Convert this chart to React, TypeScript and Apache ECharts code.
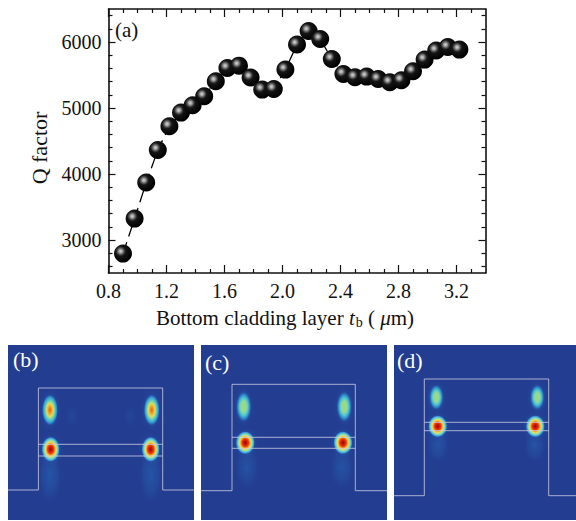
import React, { useEffect, useRef } from "react";
import * as echarts from "echarts";

const thickness = [0.9,0.98,1.06,1.14,1.22,1.3,1.38,1.46,1.54,1.62,1.7,1.78,1.86,1.94,2.02,2.1,2.18,2.26,2.34,2.42,2.5,2.58,2.66,2.74,2.82,2.9,2.98,3.06,3.14,3.22];
const qFactor = [2794,3324,3870,4364,4723,4930,5041,5177,5405,5606,5642,5461,5279,5288,5582,5961,6167,6045,5742,5515,5465,5476,5439,5389,5420,5556,5733,5870,5924,5885];
const xMajor = [0.8,1.2,1.6,2.0,2.4,2.8,3.2];
const xMinor = [0.9,1.0,1.1,1.3,1.4,1.5,1.7,1.8,1.9,2.1,2.2,2.3,2.5,2.6,2.7,2.9,3.0,3.1,3.3];
const yMajor = [3000,4000,5000,6000];
const yMinor = [2600,2800,3200,3400,3600,3800,4200,4400,4600,4800,5200,5400,5600,5800,6200,6400];

const serif = "'Liberation Serif', serif";
const ink = "#111111";

// Field panels, in each panel's own pixel scale.
const panelB = {
  label: "(b)", labelX: 5, labelY: 16, frame: [8, 345, 186, 175],
  outline: [[0,145],[30.4,145],[30.4,43],[154.7,43],[154.7,145],[186,145]],
  upper: [[30.4,99.3],[154.7,99.3]], lower: [[30.4,111],[154.7,111]],
  top: [[42,65,16,31],[143.7,65,16,31]], hot: [[42.7,104.3,18,25],[142.7,104.3,18,25]],
  glow: [[42,130,26,62,0.5],[143,130,26,62,0.5],[64,71,14,24,0.18],[122,71,14,24,0.18],[42,65,24,46,0.6],[143.7,65,24,46,0.6],[42.7,104.3,28,36,0.7],[142.7,104.3,28,36,0.7]],
};
const panelC = {
  label: "(c)", labelX: 4, labelY: 19, frame: [201, 345, 186, 175],
  outline: [[0,145.7],[31,145.7],[31,39.3],[154.3,39.3],[154.3,145.7],[186,145.7]],
  upper: [[31,92.3],[154.3,92.3]], lower: [[31,103.3],[154.3,103.3]],
  top: [[42.7,61.7,15,30],[143.3,61.7,15,30]], hot: [[44.3,97.7,19,23],[142,97.7,19,23]],
  glow: [[46,122,26,48,0.45],[141,122,26,48,0.45],[42.7,61.7,22,44,0.7],[143.3,61.7,22,44,0.7],[44.3,97.7,28,34,0.75],[142,97.7,28,34,0.75]],
};
const panelD = {
  label: "(d)", labelX: 3, labelY: 17, frame: [394, 345, 182, 175],
  outline: [[0,150.7],[30.3,150.7],[30.3,34],[154.7,34],[154.7,150.7],[182,150.7]],
  upper: [[30.3,77.3],[154.7,77.3]], lower: [[30.3,85.7],[154.7,85.7]],
  top: [[42.3,52.3,14,25],[143.3,52.3,14,25]], hot: [[43.7,81.3,19,22],[141.3,81.3,19,22]],
  glow: [[44,100,24,38,0.45],[141,100,24,38,0.45],[42.3,52.3,22,36,0.7],[143.3,52.3,22,36,0.7],[43.7,81.3,28,32,0.75],[141.3,81.3,28,32,0.75]],
};
const panels = [panelB, panelC, panelD];

const sphere = {
  type: "radial", x: 0.37, y: 0.37, r: 0.62,
  colorStops: [
    { offset: 0, color: "#d4d4d4" }, { offset: 0.14, color: "#a8a8a8" },
    { offset: 0.28, color: "#5a5a5a" }, { offset: 0.44, color: "#151515" }, { offset: 1, color: "#000000" },
  ],
};
const radial = (stops: [number, string][]) => ({
  type: "radial", x: 0.5, y: 0.5, r: 0.5,
  colorStops: stops.map(([offset, color]) => ({ offset, color })),
});
const hotFill = radial([[0,"#8c0a0a"],[0.16,"#c8140e"],[0.34,"#f03a10"],[0.48,"#f8a820"],[0.6,"#e8e060"],[0.76,"#70d8c8"],[0.9,"#3a98d8"],[1,"rgba(60,130,210,0)"]]);
const warmFill = radial([[0,"#f05818"],[0.22,"#f0a028"],[0.42,"#e0dc58"],[0.62,"#60d0c0"],[0.84,"#3090d0"],[1,"rgba(40,100,180,0)"]]);
const coolFill = radial([[0,"#98d888"],[0.36,"#98d890"],[0.58,"#50c8d0"],[0.8,"#2e88c8"],[1,"rgba(40,100,180,0)"]]);
const glowFill = (a: number) => radial([[0,`rgba(40,110,190,${a})`],[0.6,`rgba(40,95,175,${a * 0.6})`],[1,"rgba(35,61,145,0)"]]);

function buildOption() {
  const gridBase = { left: 108.5, top: 9, width: 377, height: 264, show: false };
  const grids: any[] = [gridBase];
  const xAxes: any[] = [];
  const yAxes: any[] = [];
  const series: any[] = [];
  const tickStyle = { color: ink, width: 1.2 };
  const lineOn = { show: true, lineStyle: { color: ink, width: 1.6 } };
  const xCommon = { type: "value", min: 0.8, max: 3.4, gridIndex: 0, splitLine: { show: false } };
  const yCommon = { type: "value", min: 2500, max: 6500, gridIndex: 0, splitLine: { show: false } };

  xAxes.push({
    ...xCommon, position: "bottom", axisLine: lineOn,
    axisTick: { show: true, inside: true, length: 8, lineStyle: tickStyle, customValues: xMajor },
    axisLabel: { show: true, customValues: xMajor, margin: 8, color: ink, fontFamily: serif, fontSize: 20, formatter: (v: number) => v.toFixed(1) },
    name: "Bottom cladding layer {i|t}{s|b} ( {i|\u03bc}m)", nameLocation: "middle", nameGap: 33,
    nameTextStyle: {
      color: ink, fontFamily: serif, fontSize: 21, padding: [0, 24, 0, 0],
      rich: { i: { fontStyle: "italic", fontFamily: serif, fontSize: 21, color: ink }, s: { fontFamily: serif, fontSize: 14, color: ink, verticalAlign: "bottom", padding: [9, 0, 0, 1] } },
    },
  });
  xAxes.push({ ...xCommon, position: "bottom", axisLine: { show: false }, axisLabel: { show: false }, axisTick: { show: true, inside: true, length: 4, lineStyle: tickStyle, customValues: xMinor } });
  xAxes.push({ ...xCommon, position: "top", axisLine: lineOn, axisLabel: { show: false }, axisTick: { show: true, inside: true, length: 8, lineStyle: tickStyle, customValues: xMajor } });
  xAxes.push({ ...xCommon, position: "top", axisLine: { show: false }, axisLabel: { show: false }, axisTick: { show: true, inside: true, length: 4, lineStyle: tickStyle, customValues: xMinor } });

  yAxes.push({
    ...yCommon, position: "left", axisLine: lineOn,
    axisTick: { show: true, inside: true, length: 7, lineStyle: tickStyle, customValues: yMajor },
    axisLabel: { show: true, customValues: yMajor, margin: 7, color: ink, fontFamily: serif, fontSize: 20, formatter: (v: number) => String(v) },
    name: "Q factor", nameLocation: "middle", nameGap: 53, nameRotate: 90,
    nameTextStyle: { color: ink, fontFamily: serif, fontSize: 22, padding: [0, 14, 0, 0] },
  });
  yAxes.push({ ...yCommon, position: "left", axisLine: { show: false }, axisLabel: { show: false }, axisTick: { show: true, inside: true, length: 4, lineStyle: tickStyle, customValues: yMinor } });
  yAxes.push({ ...yCommon, position: "right", axisLine: lineOn, axisLabel: { show: false }, axisTick: { show: true, inside: true, length: 7, lineStyle: tickStyle, customValues: yMajor } });
  yAxes.push({ ...yCommon, position: "right", axisLine: { show: false }, axisLabel: { show: false }, axisTick: { show: true, inside: true, length: 4, lineStyle: tickStyle, customValues: yMinor } });

  series.push({
    name: "Q factor", type: "line", xAxisIndex: 0, yAxisIndex: 0,
    data: thickness.map((t, i) => [t, qFactor[i]]),
    symbol: "circle", symbolSize: 18, showSymbol: true,
    lineStyle: { color: "#000", width: 1.3, type: [12, 6] },
    itemStyle: { color: sphere, opacity: 1 },
    z: 5,
  });

  panels.forEach((p, pi) => {
    const gi = grids.length;
    const xi = xAxes.length;
    const yi = yAxes.length;
    const [l, t, w, h] = p.frame;
    grids.push({ left: l, top: t, width: w, height: h, show: true, backgroundColor: "#233d91", borderWidth: 0 });
    xAxes.push({ type: "value", gridIndex: gi, min: 0, max: w, show: false });
    yAxes.push({ type: "value", gridIndex: gi, min: 0, max: h, inverse: true, show: false });
    const base = { xAxisIndex: xi, yAxisIndex: yi, silent: true };
    p.glow.forEach((g, k) => {
      series.push({
        ...base, name: `glow${pi}${k}`, type: "scatter", data: [[g[0], g[1]]], symbol: "circle",
        symbolSize: [g[2], g[3]], itemStyle: { color: glowFill(g[4]), opacity: 1 }, z: 2,
      });
    });
    p.top.forEach((s, k) => {
      series.push({
        ...base, name: `top${pi}${k}`, type: "scatter", data: [[s[0], s[1]]], symbol: "circle",
        symbolSize: [s[2], s[3]],
        itemStyle: { color: pi === 0 ? warmFill : coolFill, opacity: 1 }, z: 3,
      });
    });
    p.hot.forEach((s, k) => {
      series.push({
        ...base, name: `hot${pi}${k}`, type: "scatter", data: [[s[0], s[1]]], symbol: "circle",
        symbolSize: [s[2], s[3]], itemStyle: { color: hotFill, opacity: 1 }, z: 3,
      });
    });
    [p.outline, p.upper, p.lower].forEach((pts, k) => {
      series.push({
        ...base, name: `wall${pi}${k}`, type: "line", data: pts, symbol: "none",
        lineStyle: { color: "rgba(205,205,225,0.8)", width: 1 }, z: 4,
      });
    });
  });

  const labels: any[] = [
    { type: "text", left: 115, top: 19, z: 20, style: { text: "(a)", fill: ink, font: `21px ${serif}` } },
    ...panels.map((p) => ({
      type: "text", x: p.frame[0] + p.labelX, y: p.frame[1] + p.labelY - 13, z: 20,
      style: { text: p.label, fill: "#ffffff", font: `22px ${serif}` },
    })),
  ];

  return { animation: false, backgroundColor: "#ffffff", grid: grids, xAxis: xAxes, yAxis: yAxes, series, graphic: labels };
}

export default function App() {
  const ref = useRef<HTMLDivElement>(null);
  useEffect(() => {
    const chart = echarts.init(ref.current!, undefined, { renderer: "svg" });
    chart.setOption(buildOption() as any);
    return () => chart.dispose();
  }, []);
  return <div ref={ref} style={{ position: "absolute", left: 0, top: 0, width: 576, height: 521 }} />;
}
